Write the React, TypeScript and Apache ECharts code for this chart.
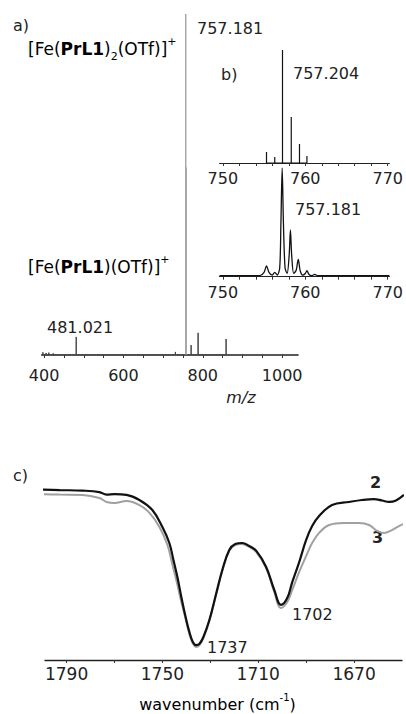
import React, { useEffect, useRef } from "react";
import * as echarts from "echarts";

// ---- Panel a: full ESI-MS spectrum (m/z vs relative intensity) ----
const msMainMz = [757.2, 758.2];
const msMainInt = [100, 55];
const msMinorMz = [397, 405, 412, 423, 481.0, 731, 770.6, 788.2, 858.8];
const msMinorInt = [0.8, 0.6, 0.7, 0.5, 5.3, 0.9, 2.9, 6.5, 4.7];
const msLabelTicks = [400, 600, 800, 1000];
const msMinorTicks = [400, 450, 500, 550, 600, 650, 700, 750, 800, 850, 900, 950, 1000];

// ---- Panel b: isotope pattern, calculated (sticks) and observed (profile) ----
const isoCalcMz = [755.3, 756.3, 757.24, 758.3, 759.3, 760.2];
const isoCalcInt = [9.7, 5.3, 100, 40.7, 16.8, 6.2];
const isoObsMz = [749.6, 754.5, 755.0, 755.3, 755.6, 756.0, 756.3, 756.6, 756.9, 757.05, 757.2, 757.35, 757.55, 757.8, 758.05, 758.2, 758.35, 758.6, 758.9, 759.15, 759.4, 759.7, 760.0, 760.2, 760.45, 760.8, 761.15, 761.5, 762.2, 770.2];
const isoObsInt = [1, 1, 4, 10, 4, 1.5, 4, 1.5, 8, 50, 100, 50, 8, 3, 20, 43, 20, 3, 6, 16, 5, 1.5, 3, 5.6, 2, 1, 2.2, 1, 1, 1];
const isoLabelTicks = [750, 760, 770];
const isoMinorTicks = [750, 752, 754, 756, 758, 760, 762, 764, 766, 768, 770];

// ---- Panel c: IR spectra of 2 (black) and 3 (grey) ----
const irWn2 = [1802.1, 1792.9, 1783.3, 1776.3, 1773.3, 1770, 1765, 1759.6, 1754.2, 1750, 1747.1, 1745.4, 1743.75, 1742.1, 1740.4, 1738.75, 1737.3, 1736, 1734.6, 1732.9, 1730.4, 1727.5, 1725, 1722.1, 1719.6, 1716.7, 1713.75, 1710.8, 1706.7, 1703.3, 1700.5, 1697.9, 1695.8, 1692.9, 1690, 1687.5, 1684.6, 1679.2, 1672.1, 1666.7, 1661.7, 1658.3, 1655.4, 1652.5, 1649.2];
const irT2 = [94.8, 94.4, 94.1, 93.3, 91.9, 92.1, 91.7, 88.9, 83.3, 73.9, 65, 55.6, 46.1, 35, 24.4, 15.6, 10, 8.3, 8.9, 12.8, 22.2, 37.2, 50, 61.1, 64.4, 65, 63.3, 60.6, 51.7, 38.9, 30.6, 34.4, 43.3, 54.4, 66.7, 74.4, 80, 86.1, 87.8, 88.9, 89.4, 88.6, 87.8, 88.6, 91.7];
const irWn3 = [1802.1, 1792.9, 1783.3, 1776.3, 1773.3, 1770, 1765, 1759.6, 1755.4, 1751.25, 1747.9, 1745.8, 1744, 1742.3, 1740.4, 1738.75, 1737.3, 1736, 1734.6, 1732.9, 1730.4, 1727.5, 1725, 1722.1, 1719.6, 1716.7, 1713.75, 1710.8, 1706.7, 1703.3, 1700.5, 1697.9, 1695.8, 1692.9, 1690, 1687.5, 1684.6, 1680.4, 1674.2, 1667.9, 1663.75, 1660.4, 1657.5, 1654.2, 1651.25, 1649.2];
const irT3 = [92.2, 91.9, 91.7, 90, 87.8, 87.2, 88.3, 86.1, 81.7, 73.9, 63.9, 52.8, 43.3, 33.3, 23.3, 14.4, 9.2, 7.2, 8.1, 12.2, 21.7, 36.7, 49.4, 60.6, 63.9, 64.4, 62.8, 60, 51.1, 37.8, 28.9, 32.2, 38.9, 48.9, 57.8, 65, 70.6, 75, 76.1, 76.1, 75, 71.7, 70.6, 72.2, 74.4, 75.6];
const irLabelTicks = [1790, 1750, 1710, 1670];
const irMinorTicks = [1790, 1770, 1750, 1730, 1710, 1690, 1670];

const FONT = "DejaVu Sans";

function sticks(xs: number[], ys: number[]) {
  const d: number[][] = [];
  xs.forEach((x, i) => {
    d.push([x, 0], [x, ys[i]], [x, 0]);
  });
  return d;
}
function pairs(xs: number[], ys: number[]) {
  return xs.map((x, i) => [x, ys[i]]);
}

function xAxisCfg(grid: number, min: number, max: number, labels: number[], ticks: number[], margin: number, lw: number, fs: number, inverse = false) {
  return {
    type: "value",
    gridIndex: grid,
    min,
    max,
    inverse,
    splitLine: { show: false },
    axisLine: { show: true, onZero: false, lineStyle: { color: "#222", width: lw } },
    axisTick: { show: true, length: 3, customValues: ticks, lineStyle: { color: "#333", width: 1 } },
    axisLabel: {
      customValues: labels,
      margin,
      color: "#222",
      fontSize: fs,
      fontFamily: FONT,
      formatter: (v: number) => String(v),
    },
  };
}
function yAxisCfg(grid: number) {
  return { type: "value", gridIndex: grid, min: 0, max: 100, show: false };
}

const txt = (text: string, x: number, y: number, extra: any = {}) => ({
  type: "text",
  x,
  y,
  style: { text, fontSize: 16, fontFamily: FONT, fill: "#222", verticalAlign: "middle", ...extra },
});

const formulaRich = {
  n: { fontSize: 17, fontFamily: FONT, lineHeight: 26, verticalAlign: "middle", color: "#222" },
  b: { fontSize: 17, fontFamily: FONT, fontWeight: "bold", lineHeight: 26, verticalAlign: "middle", color: "#222" },
  s: { fontSize: 11, fontFamily: FONT, lineHeight: 11, verticalAlign: "bottom", color: "#222" },
  p: { fontSize: 11, fontFamily: FONT, lineHeight: 14, verticalAlign: "top", color: "#222" },
};

export default function App() {
  const ref = useRef<HTMLDivElement>(null);
  useEffect(() => {
    document.body.style.margin = "0";
    const chart = echarts.init(ref.current!, null, { renderer: "svg" });
    chart.setOption({
      animation: false,
      backgroundColor: "#fff",
      grid: [
        { left: 41.7, width: 256.3, top: 14, height: 341 },
        { left: 219.5, width: 179.2, top: 50, height: 113 },
        { left: 219.5, width: 179.2, top: 168, height: 108.7 },
        { left: 45, width: 357, top: 480, height: 180 },
      ],
      xAxis: [
        xAxisCfg(0, 394, 1040, msLabelTicks, msMinorTicks, 12, 1.6, 16),
        xAxisCfg(1, 749.6, 770.2, isoLabelTicks, isoMinorTicks, 7, 1, 16),
        xAxisCfg(2, 749.6, 770.2, isoLabelTicks, isoMinorTicks, 8, 1, 16),
        xAxisCfg(3, 1650, 1799, irLabelTicks, irMinorTicks, 5, 1.3, 17, true),
      ],
      yAxis: [yAxisCfg(0), yAxisCfg(1), yAxisCfg(2), yAxisCfg(3)],
      series: [
        {
          type: "line", xAxisIndex: 0, yAxisIndex: 0, symbol: "none",
          data: sticks(msMinorMz, msMinorInt),
          lineStyle: { color: "#444", width: 1 },
        },
        {
          type: "line", xAxisIndex: 0, yAxisIndex: 0, symbol: "none",
          data: sticks(msMainMz, msMainInt),
          lineStyle: { color: "#8a8a8a", width: 1.1 },
        },
        {
          type: "line", xAxisIndex: 1, yAxisIndex: 1, symbol: "none",
          data: sticks(isoCalcMz, isoCalcInt),
          lineStyle: { color: "#111", width: 1.2 },
        },
        {
          type: "line", xAxisIndex: 2, yAxisIndex: 2, symbol: "none", smooth: 0.3,
          data: pairs(isoObsMz, isoObsInt),
          lineStyle: { color: "#111", width: 1.3 },
        },
        {
          type: "line", xAxisIndex: 3, yAxisIndex: 3, symbol: "none", smooth: 0.4, clip: false,
          data: pairs(irWn3, irT3),
          lineStyle: { color: "#a0a0a0", width: 2 },
        },
        {
          type: "line", xAxisIndex: 3, yAxisIndex: 3, symbol: "none", smooth: 0.4, clip: false,
          data: pairs(irWn2, irT2),
          lineStyle: { color: "#111", width: 2.2 },
        },
      ],
      graphic: [
        txt("a)", 13, 25),
        {
          type: "text", x: 28, y: 49,
          style: { text: "{n|[Fe(}{b|PrL1}{n|)}{s|2}{n|(OTf)]}{p|+}", rich: formulaRich, verticalAlign: "middle" },
        },
        txt("757.181", 197, 28.5),
        txt("b)", 221, 74),
        txt("757.204", 293, 73.5),
        txt("757.181", 295, 209),
        {
          type: "text", x: 28, y: 267,
          style: { text: "{n|[Fe(}{b|PrL1}{n|)(OTf)]}{p|+}", rich: formulaRich, verticalAlign: "middle" },
        },
        txt("481.021", 47, 327),
        txt("m/z", 241, 397.5, { fontStyle: "italic", align: "center" }),
        txt("c)", 13, 475),
        txt("2", 370, 482, { fontWeight: "bold" }),
        txt("3", 372, 537.5, { fontWeight: "bold" }),
        txt("1737", 207, 647),
        txt("1702", 292, 614),
        {
          type: "text", x: 217.5, y: 704,
          style: {
            text: "{n|wavenumber (cm}{p|-1}{n|)}",
            align: "center",
            verticalAlign: "middle",
            rich: {
              n: { fontSize: 16, fontFamily: FONT, lineHeight: 24, verticalAlign: "middle", color: "#222" },
              p: { fontSize: 10, fontFamily: FONT, lineHeight: 14, verticalAlign: "top", color: "#222" },
            },
          },
        },
      ],
    });
    return () => chart.dispose();
  }, []);
  return <div ref={ref} style={{ width: 406, height: 714 }} />;
}
